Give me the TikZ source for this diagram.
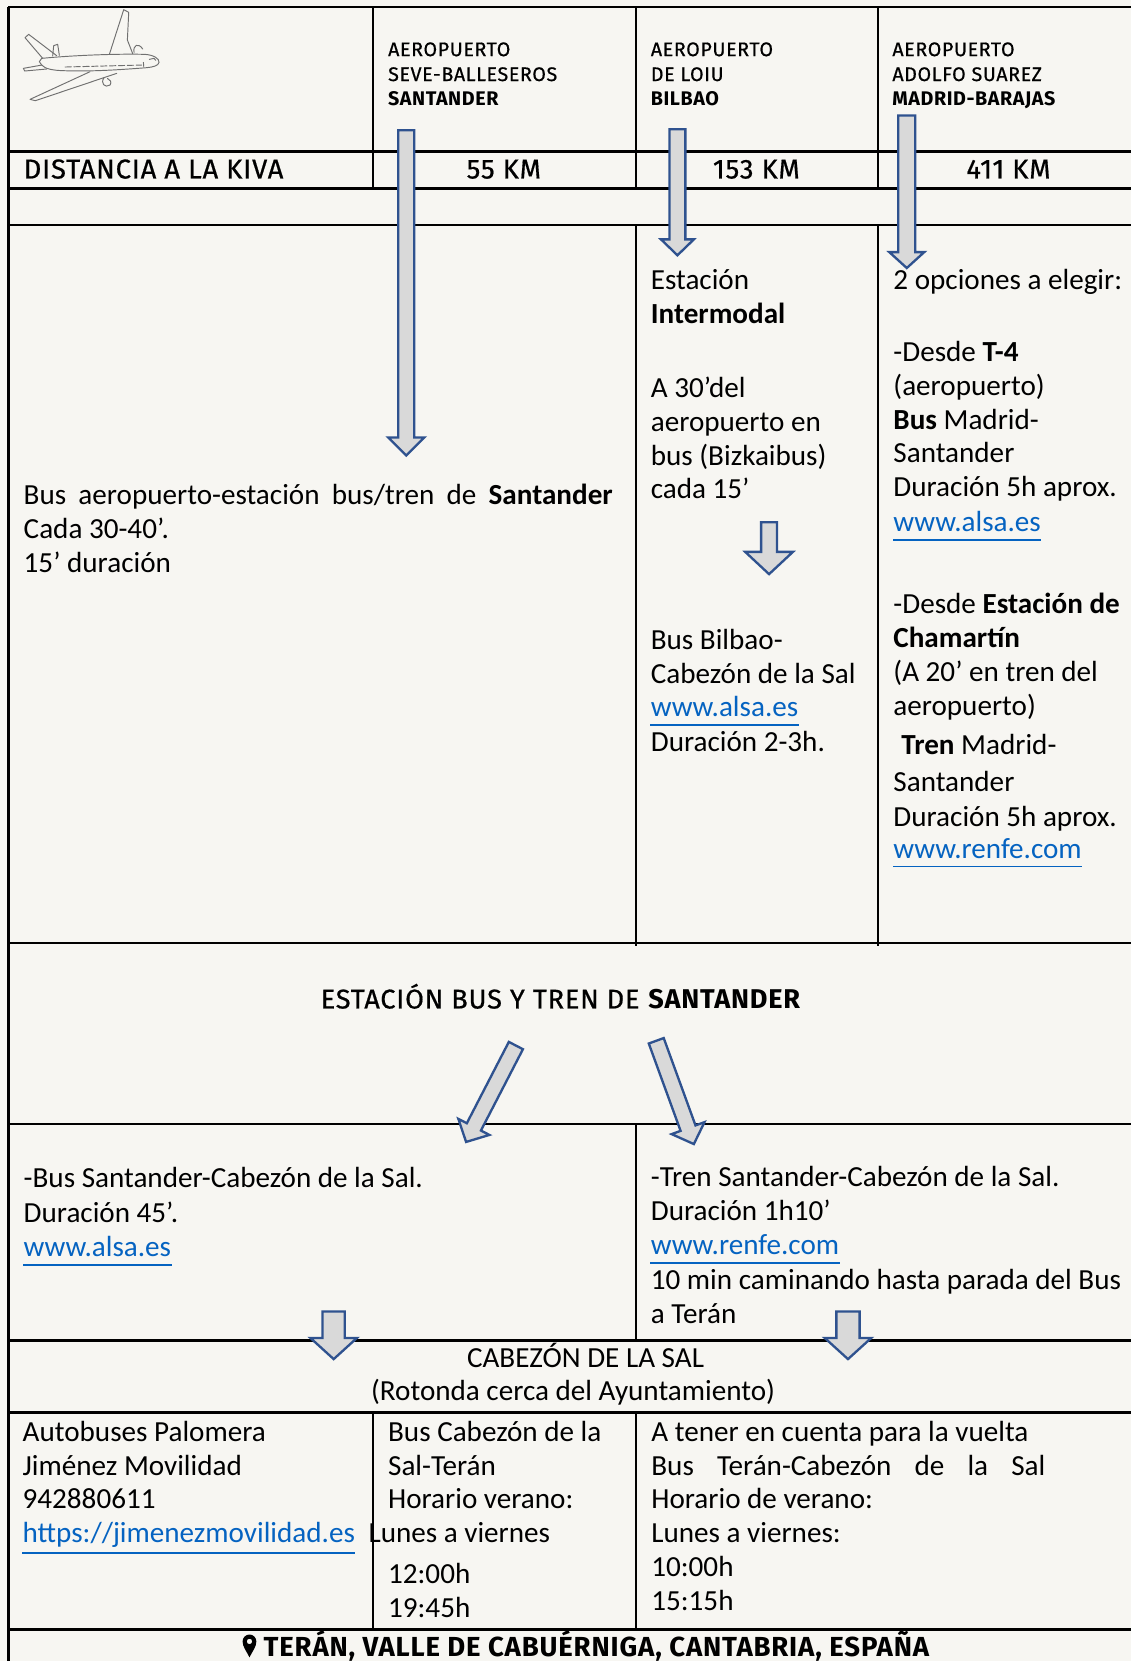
\documentclass[tikz,border=0pt]{standalone}
\usepackage{fontspec}
\setmainfont{Carlito}
\newfontfamily\hfont[LetterSpace=3, UprightFeatures={FakeBold=0.6}]{Fira Sans}
\usetikzlibrary{calc}
\definecolor{bg}{HTML}{F7F6F2}
\definecolor{lnk}{HTML}{0563C1}
\definecolor{arrline}{HTML}{2F528F}
\definecolor{arrfill}{HTML}{D9D9D9}
\definecolor{planec}{HTML}{707070}
\tikzset{
  gridline/.style={line width=1pt, draw=black},
  gridthick/.style={line width=1.4pt, draw=black},
  txt/.style={inner sep=0pt, anchor=base west, font=\fontsize{13.75}{16}\selectfont, text=black},
  ctxt/.style={txt, anchor=base},
  lnktxt/.style={txt, text=lnk},
  uline/.style={draw=lnk, line width=0.9pt},
  hdr/.style={inner sep=0pt, anchor=base west, font=\hfont\fontsize{9.3}{11}\selectfont},
  dist/.style={inner sep=0pt, anchor=base west, font=\hfont\fontsize{12.9}{14}\selectfont},
  distc/.style={dist, anchor=base},
  estc/.style={inner sep=0pt, anchor=base, font=\hfont\fontsize{12.8}{14}\selectfont},
  botc/.style={inner sep=0pt, anchor=base, font=\hfont\bfseries\fontsize{13}{14}\selectfont},
  blockarrow/.style={draw=arrline, fill=arrfill, line width=1.1pt, line join=miter},
  planeline/.style={draw=planec, line width=0.45pt, line cap=round, line join=round},
}
\newcommand\tl[4][txt]{\node[#1] (#2) at (#3) {#4};}
\newcommand\lk[3]{\node[lnktxt] (#1) at (#2) {#3};
  \draw[uline] ($(#1.base west)+(0,8)$) -- ($(#1.base east)+(0,8)$);}
\newcommand\barrow[5]{%
  \coordinate (ba-h) at ($(#2)!#5!(#1)$);
  \draw[blockarrow] ($(#1)!#3!90:(#2)$) -- ($(ba-h)!#3!90:(#2)$) -- ($(ba-h)!#4!90:(#2)$) -- (#2)
    -- ($(ba-h)!#4!-90:(#2)$) -- ($(ba-h)!#3!-90:(#2)$) -- ($(#1)!#3!-90:(#2)$) -- cycle;}
\begin{document}
\begin{tikzpicture}[x=0.5pt, y=-0.5pt]
\useasboundingbox (0,0) rectangle (1068,1568);
\fill[bg] (0,0) rectangle (1068,1568);

% ---------- grid ----------
\draw[gridline] (8,6.5) -- (1068,6.5);
\draw[gridline] (8,6.5) -- (8,1568);
\draw[gridline] (352,6.5) -- (352,179.5);
\draw[gridline] (600,6.5) -- (600,179.5);
\draw[gridline] (829,6.5) -- (829,179.5);
\draw[gridline] (8,143) -- (1068,143);
\draw[gridline] (8,178) -- (1068,178);
\draw[gridline] (8,212) -- (1068,212);
\draw[gridline] (600,212) -- (600,893);
\draw[gridline] (829,212) -- (829,893);
\draw[gridline] (8,890) -- (1068,890);
\draw[gridline] (8,1061) -- (1068,1061);
\draw[gridline] (600,1061) -- (600,1265);
\draw[gridthick] (8,1265) -- (1068,1265);
\draw[gridthick] (8,1333) -- (1068,1333);
\draw[gridline] (352,1333) -- (352,1540);
\draw[gridline] (600,1333) -- (600,1540);
\draw[gridthick] (8,1538) -- (1068,1538);

% ---------- plane sketch ----------
\begin{scope}[shift={(9.44,4.72)}, scale=0.3148]
  \draw[planeline] (95,160) .. controls (200,150) and (330,146) .. (405,148)
     .. controls (430,150) and (448,160) .. (447,172) .. controls (445,182) and (430,186) .. (410,188)
     .. controls (330,194) and (250,200) .. (160,197) .. controls (130,196) and (105,192) .. (95,180) -- (88,170) -- cycle;
  \draw[planeline] (98,160) -- (45,98) -- (56,88) -- (140,152);
  \draw[planeline] (128,153) -- (131,122) -- (143,118) -- (148,151);
  \draw[planeline] (96,180) -- (40,190) -- (44,198) -- (110,192);
  \draw[planeline] (298,148) -- (341,14) -- (356,22) -- (352,105) -- (368,146);
  \draw[planeline] (372,142) .. controls (368,120) and (385,112) .. (398,132);
  \draw[planeline] (240,200) -- (60,283) -- (76,287) -- (320,205);
  \draw[planeline] (282,218) .. controls (270,235) and (285,250) .. (300,240) .. controls (306,232) and (300,222) .. (292,220);
  \draw[planeline, dash pattern=on 3pt off 1.2pt] (165,186) -- (395,180);
  \draw[planeline] (400,172) -- (401,184);
  \draw[planeline] (418,163) -- (432,160) -- (437,166);
\end{scope}

% ---------- header ----------
\tl[hdr]{h1a}{366,53}{AEROPUERTO}
\tl[hdr]{h1b}{366,76.5}{SEVE-BALLESEROS}
\tl[hdr]{h1c}{366,100}{\bfseries SANTANDER}
\tl[hdr]{h2a}{614,53}{AEROPUERTO}
\tl[hdr]{h2b}{614,76.5}{DE LOIU}
\tl[hdr]{h2c}{614,100}{\bfseries BILBAO}
\tl[hdr]{h3a}{842,53}{AEROPUERTO}
\tl[hdr]{h3b}{842,76.5}{ADOLFO SUAREZ}
\tl[hdr]{h3c}{842,100}{\bfseries MADRID-BARAJAS}

\tl[dist]{dk}{22,168.5}{DISTANCIA A LA KIVA}
\tl[distc]{d1}{475.6,168.5}{55 KM}
\tl[distc]{d2}{714,168.5}{153 KM}
\tl[distc]{d3}{952,168.5}{411 KM}

% ---------- main body ----------
\tl{s1}{22,476}{\makebox[278pt][s]{Bus aeropuerto-estación bus/tren de \textbf{Santander}}}
\tl{s2}{22,508}{Cada 30-40’.}
\tl{s3}{22,540}{15’ duración}

\tl{b1}{614,273}{Estación}
\tl{b2}{614,305}{\textbf{Intermodal}}
\tl{b3}{614,375}{A 30’del}
\tl{b4}{614,407}{aeropuerto en}
\tl{b5}{614,439}{bus (Bizkaibus)}
\tl{b6}{614,471}{cada 15’}
\tl{b7}{614,613}{Bus Bilbao-}
\tl{b8}{614,645}{Cabezón de la Sal}
\lk{b9}{614,676}{www.alsa.es}
\tl{b10}{614,709}{Duración 2-3h.}

\tl{m1}{843,273}{2 opciones a elegir:}
\tl{m2}{843,341}{-Desde \textbf{T-4}}
\tl{m3}{843,373}{(aeropuerto)}
\tl{m4}{843,405}{\textbf{Bus} Madrid-}
\tl{m5}{843,437}{Santander}
\tl{m6}{843,469}{Duración 5h aprox.}
\lk{m7}{843,502}{www.alsa.es}
\tl{m8}{843,579}{-Desde \textbf{Estación de}}
\tl{m9}{843,611}{\textbf{Chamartín}}
\tl{m10}{843,643}{(A 20’ en tren del}
\tl{m11}{843,675}{aeropuerto)}
\tl{m12}{850.5,712}{\textbf{Tren} Madrid-}
\tl{m13}{843,747}{Santander}
\tl{m14}{843,780}{Duración 5h aprox.}
\lk{m15}{843,810}{www.renfe.com}

% ---------- Santander station ----------
\tl[estc]{est}{529.5,952}{ESTACIÓN BUS Y TREN DE \textbf{SANTANDER}}

\tl{l1}{22,1121}{-Bus Santander-Cabezón de la Sal.}
\tl{l2}{22,1154}{Duración 45’.}
\lk{l3}{22,1186}{www.alsa.es}
\tl{r1}{614,1120}{-Tren Santander-Cabezón de la Sal.}
\tl{r2}{614,1152}{Duración 1h10’}
\lk{r3}{614,1184}{www.renfe.com}
\tl{r4}{614,1217}{10 min caminando hasta parada del Bus}
\tl{r5}{614,1249}{a Terán}

\tl[ctxt]{cab1}{552.75,1291}{CABEZÓN DE LA SAL}
\tl[ctxt]{cab2}{541,1322}{(Rotonda cerca del Ayuntamiento)}

% ---------- bottom table ----------
\tl{p1}{21,1361}{Autobuses Palomera}
\tl{p2}{21,1393}{Jiménez Movilidad}
\tl{p3}{21,1424}{942880611}
\node[lnktxt] (p4) at (21,1456) {https://jimenezmovilidad.es};
\draw[uline] ($(p4.base west)+(0,10)$) -- ($(p4.base east)+(0,10)$);
\tl{q1}{366,1361}{Bus Cabezón de la}
\tl{q2}{366,1393}{Sal-Terán}
\tl{q3}{366,1424}{Horario verano:}
\tl{q4}{347.5,1456}{Lunes a viernes}
\tl{q5}{366,1495}{12:00h}
\tl{q6}{366,1527}{19:45h}
\tl{t1}{614.5,1361}{A tener en cuenta para la vuelta}
\tl{t2}{614.5,1393}{\makebox[186pt][s]{Bus Terán-Cabezón de la Sal}}
\tl{t3}{614.5,1424}{Horario de verano:}
\tl{t4}{614.5,1456}{Lunes a viernes:}
\tl{t5}{614.5,1488}{10:00h}
\tl{t6}{614.5,1520.5}{15:15h}

% ---------- footer ----------
\tl[botc]{ter}{563,1563.5}{TERÁN, VALLE DE CABUÉRNIGA, CANTABRIA, ESPAÑA}
\begin{scope}[shift={($(ter.base west)+(-13,1)$)}]
\fill[black, even odd rule] (0,0) .. controls (-3,-6) and (-6.5,-10) .. (-6.5,-15)
   arc[start angle=180, end angle=360, radius=6.5] .. controls (6.5,-10) and (3,-6) .. (0,0) -- cycle
   (0,-15) circle[radius=2.6];
\end{scope}

% ---------- block arrows ----------
\coordinate (aSt) at (383.5,123);  \coordinate (aSh) at (383.5,430);
\coordinate (aBt) at (639.5,122);  \coordinate (aBh) at (639.5,241);
\coordinate (aMt) at (856,109);    \coordinate (aMh) at (856,253);
\coordinate (aIt) at (726,493);    \coordinate (aIh) at (726,542);
\coordinate (aLt) at (487,987);    \coordinate (aLh) at (440,1078);
\coordinate (aRt) at (619.5,982.5);\coordinate (aRh) at (655,1080);
\coordinate (aDLt) at (315,1238);  \coordinate (aDLh) at (315,1283);
\coordinate (aDRt) at (800.5,1238);\coordinate (aDRh) at (800.5,1283);
\barrow{aSt}{aSh}{3.75pt}{8.5pt}{8.5pt}
\barrow{aBt}{aBh}{3.75pt}{7.75pt}{7.5pt}
\barrow{aMt}{aMh}{4pt}{8.25pt}{7.5pt}
\barrow{aIt}{aIh}{3.75pt}{11.25pt}{10.5pt}
\barrow{aLt}{aLh}{3.75pt}{8.25pt}{8pt}
\barrow{aRt}{aRh}{3.75pt}{8.25pt}{8pt}
\barrow{aDLt}{aDLh}{5.25pt}{11pt}{10pt}
\barrow{aDRt}{aDRh}{5.5pt}{11pt}{10pt}
\end{tikzpicture}
\end{document}
